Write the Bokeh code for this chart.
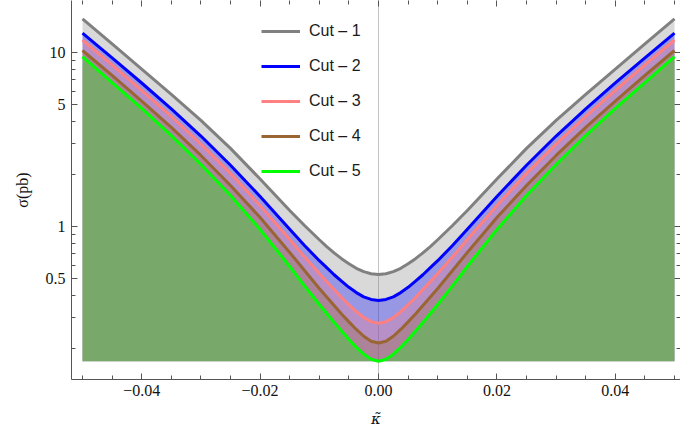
from bokeh.plotting import figure
from bokeh.models import (FixedTicker, CustomJSTickFormatter, LinearAxis, LogAxis,
                          Span, Legend, LegendItem, Range1d)
from bokeh.embed import file_html
from bokeh.resources import INLINE

# ---------------- data ----------------
kappa = [-0.05, -0.045, -0.04, -0.035, -0.03, -0.025, -0.02, -0.015, -0.0125, -0.01,
         -0.00875, -0.0075, -0.00625, -0.005, -0.00375, -0.0025, -0.00125, 0.0,
         0.00125, 0.0025, 0.00375, 0.005, 0.00625, 0.0075, 0.00875,
         0.01, 0.0125, 0.015, 0.02, 0.025, 0.03, 0.035, 0.04, 0.045, 0.05]

cut1 = [15.62, 11.21, 8.02, 5.74, 4.07, 2.81, 1.875, 1.236, 1.013, 0.839,
        0.767, 0.705, 0.653, 0.610, 0.575, 0.550, 0.535, 0.530,
        0.535, 0.550, 0.575, 0.610, 0.653, 0.705, 0.767,
        0.839, 1.013, 1.236, 1.875, 2.81, 4.07, 5.74, 8.02, 11.21, 15.62]
cut2 = [12.91, 9.32, 6.68, 4.74, 3.31, 2.25, 1.487, 0.964, 0.778, 0.636,
        0.580, 0.528, 0.485, 0.447, 0.417, 0.394, 0.381, 0.376,
        0.381, 0.394, 0.417, 0.447, 0.485, 0.528, 0.580,
        0.636, 0.778, 0.964, 1.487, 2.25, 3.31, 4.74, 6.68, 9.32, 12.91]
cut3 = [11.80, 8.48, 6.05, 4.29, 2.98, 2.02, 1.32, 0.842, 0.669, 0.537,
        0.482, 0.434, 0.391, 0.355, 0.324, 0.300, 0.284, 0.278,
        0.284, 0.300, 0.324, 0.355, 0.391, 0.434, 0.482,
        0.537, 0.669, 0.842, 1.32, 2.02, 2.98, 4.29, 6.05, 8.48, 11.80]
cut4 = [10.27, 7.38, 5.26, 3.71, 2.56, 1.72, 1.127, 0.709, 0.559, 0.440,
        0.393, 0.351, 0.314, 0.283, 0.256, 0.234, 0.219, 0.214,
        0.219, 0.234, 0.256, 0.283, 0.314, 0.351, 0.393,
        0.440, 0.559, 0.709, 1.127, 1.72, 2.56, 3.71, 5.26, 7.38, 10.27]
cut5 = [9.48, 6.72, 4.77, 3.33, 2.27, 1.507, 0.961, 0.589, 0.456, 0.356,
        0.316, 0.281, 0.2505, 0.224, 0.202, 0.1845, 0.1725, 0.168,
        0.1725, 0.1845, 0.202, 0.224, 0.2505, 0.281, 0.316,
        0.356, 0.456, 0.589, 0.961, 1.507, 2.27, 3.33, 4.77, 6.72, 9.48]

series_labels = ["Cut \u2013 1", "Cut \u2013 2", "Cut \u2013 3", "Cut \u2013 4", "Cut \u2013 5"]
series_colors = ["#808080", "#0000ff", "#ff8080", "#996633", "#00ff00"]

x_ticks = [-0.04, -0.02, 0.0, 0.02, 0.04]
x_minor = [-0.05, -0.045, -0.035, -0.03, -0.025, -0.015, -0.01, -0.005,
           0.005, 0.01, 0.015, 0.025, 0.03, 0.035, 0.045, 0.05]
y_ticks = [0.5, 1, 5, 10]
y_minor = [0.2, 0.3, 0.4, 0.6, 0.7, 0.8, 0.9, 2, 3, 4, 6, 7, 8, 9]

# ---------------- figure ----------------
p = figure(width=680, height=433,
           x_range=Range1d(-0.05186, 0.05101), y_range=Range1d(0.1320, 19.90),
           y_axis_type="log", output_backend="svg", toolbar_location=None,
           min_border_left=71, min_border_right=0, min_border_top=0, min_border_bottom=54)
p.grid.visible = False
p.outline_line_color = None
p.background_fill_color = "white"
p.border_fill_color = "white"

p.add_layout(Span(location=0, dimension="height", line_color="#c4c4c4",
                  line_width=1, level="underlay"))

all_series = [cut1, cut2, cut3, cut4, cut5]
base = min(cut5)
for ys, c in zip(all_series, series_colors):
    p.varea(x=kappa, y1=base, y2=ys, fill_color=c, fill_alpha=0.3)

renderers = []
for ys, c in zip(all_series, series_colors):
    r = p.line(kappa, ys, line_color=c, line_width=3, line_join="round")
    renderers.append(r)

legend = Legend(items=[LegendItem(label=l, renderers=[r]) for l, r in zip(series_labels, renderers)],
                location=(190, 198), glyph_width=39, glyph_height=20, label_height=20,
                spacing=15, padding=0, margin=0, label_standoff=9,
                border_line_color=None, background_fill_alpha=0,
                label_text_font="Liberation Sans", label_text_font_size="16px",
                label_text_color="#1a1a1a")
p.add_layout(legend)

axis_col = "#555555"
lab_font = "Liberation Serif"

def style(ax):
    ax.axis_line_color = axis_col
    ax.major_tick_line_color = axis_col
    ax.minor_tick_line_color = axis_col
    ax.major_tick_in = 6
    ax.major_tick_out = 0
    ax.minor_tick_in = 4
    ax.minor_tick_out = 0
    ax.major_label_text_font = lab_font
    ax.major_label_text_font_size = "16px"
    ax.major_label_text_color = "#111111"
    ax.axis_label_text_font = lab_font
    ax.axis_label_text_font_size = "16px"
    ax.axis_label_text_color = "#111111"

xax = p.xaxis[0]
style(xax)
xax.ticker = FixedTicker(ticks=x_ticks, minor_ticks=x_minor)
xax.formatter = CustomJSTickFormatter(code="return (tick < -1e-9 ? '\u2212' : '') + Math.abs(tick).toFixed(2);")
xax.major_label_standoff = 5
xax.axis_label = "\u03ba\u0303"
xax.axis_label_text_font = "DejaVu Serif"
xax.axis_label_text_font_size = "15px"
xax.axis_label_text_font_style = "italic"
xax.axis_label_standoff = 11

yax = p.yaxis[0]
style(yax)
yax.ticker = FixedTicker(ticks=y_ticks, minor_ticks=y_minor)
yax.formatter = CustomJSTickFormatter(code="return String(tick);")
yax.major_label_standoff = 6
yax.axis_label = "\u03c3(pb)"
yax.axis_label_text_font_style = "normal"
yax.axis_label_standoff = 12

# frame ticks on top and right (tick marks only, no labels)
def frame_axis(cls, positions, length, side):
    ax = cls(ticker=FixedTicker(ticks=[], minor_ticks=positions))
    style(ax)
    ax.axis_line_color = None
    ax.minor_tick_in = length
    ax.major_label_standoff = 0
    p.add_layout(ax, side)

frame_axis(LinearAxis, x_minor, 4, "above")
frame_axis(LinearAxis, x_ticks, 6, "above")
frame_axis(LogAxis, y_minor, 4, "right")
frame_axis(LogAxis, y_ticks, 6, "right")

open("out.html", "w").write(file_html(p, INLINE))
